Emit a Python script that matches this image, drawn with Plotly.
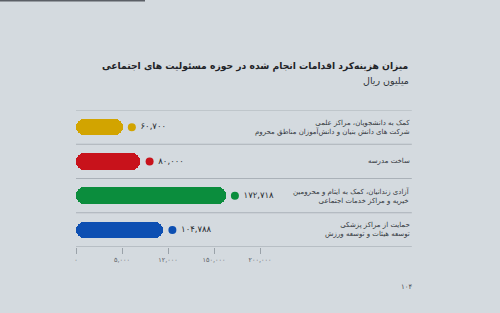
import plotly.graph_objects as go

# ---- data ----
categories = [
    "کمک به دانشجویان، مراکز علمی<br>شرکت های دانش بنیان و دانش‌آموزان مناطق محروم",
    "ساخت مدرسه",
    "آزادی زندانیان، کمک به ایتام و محرومین<br>خیریه و مراکز خدمات اجتماعی",
    "حمایت از مراکز پزشکی<br>توسعه هیئات و توسعه ورزش",
]
values = [60700, 80000, 172718, 104788]
colors = ["#d2a400", "#c8121b", "#0b8d3d", "#0d4fb2"]
tick_vals = [0, 50000, 100000, 150000, 200000]
tick_text = ["۰", "۵,۰۰۰", "۱۲,۰۰۰", "۱۵۰,۰۰۰", "۲۰۰,۰۰۰"]
title = "میزان هزینه‌کرد اقدامات انجام شده در حوزه مسئولیت های اجتماعی"
subtitle = "میلیون ریال"
page_no = "۱۰۴"

FA = str.maketrans("0123456789", "۰۱۲۳۴۵۶۷۸۹")
def fa(n):
    return f"{n:,}".translate(FA)

BAR_GAP = 10000  # visual gap between bar end and dot
BG = "#d4dadf"
FONT = "DejaVu Sans"
W, H = 500, 313

def px(x):
    return x / W
def py(y):
    return 1 - y / H

fig = go.Figure()
ys = list(range(len(values)))

fig.add_trace(go.Bar(
    y=ys, x=[v - BAR_GAP for v in values], base=0, orientation="h",
    marker=dict(color=colors, cornerradius="50%", line=dict(width=0)),
    width=0.48, hoverinfo="skip",
))
fig.add_trace(go.Scatter(
    y=ys, x=values, mode="markers+text",
    marker=dict(color=colors, size=8),
    text=["\u00a0" + fa(v) for v in values], textposition="middle right",
    textfont=dict(family=FONT, size=8.5, color="#2b2f33"),
    hoverinfo="skip",
))

x_right = 365000
# separators
for b in [-0.5, 0.5, 1.5, 2.5]:
    fig.add_shape(type="line", xref="x", yref="y", x0=0, x1=x_right, y0=b, y1=b,
                  line=dict(color="#aab1b8", width=1), layer="below")
fig.add_shape(type="line", xref="x", yref="y", x0=0, x1=x_right, y0=3.5, y1=3.5,
              line=dict(color="#9aa2a9", width=1), layer="below")
# top dark strip of the photo
fig.add_shape(type="rect", xref="paper", yref="paper", x0=0, x1=px(145), y0=py(1.5), y1=1,
              line=dict(width=0), fillcolor="#5b5f66")

# category labels
for i, c in enumerate(categories):
    fig.add_annotation(x=px(412), xref="paper", y=i, yref="y", text=c, showarrow=False,
                       xanchor="right", align="right",
                       font=dict(family=FONT, size=7, color="#33383d"))

fig.add_annotation(x=px(411), y=py(66), xref="paper", yref="paper", text="<b>" + title + "</b>",
                   showarrow=False, xanchor="right", yanchor="middle",
                   font=dict(family=FONT, size=9.2, color="#1f2327"))
fig.add_annotation(x=px(411), y=py(80), xref="paper", yref="paper", text=subtitle,
                   showarrow=False, xanchor="right", yanchor="middle",
                   font=dict(family=FONT, size=9.5, color="#2f3438"))
fig.add_annotation(x=px(407), y=py(287), xref="paper", yref="paper", text=page_no,
                   showarrow=False, xanchor="center", yanchor="middle",
                   font=dict(family=FONT, size=7, color="#4a4f55"))

scale = 0.92 / 1000  # px per unit
x0px, x1px = 60, 415
fig.update_xaxes(
    domain=[px(x0px), px(x1px)],
    range=[-(76 - x0px) / scale, (x1px - 76) / scale],
    tickvals=tick_vals, ticktext=tick_text,
    ticks="outside", ticklen=6, tickcolor="#9aa2a9", tickwidth=1,
    tickfont=dict(family=FONT, size=6.5, color="#5a6066"),
    showgrid=False, zeroline=False, showline=False,
)
fig.update_yaxes(
    domain=[py(247), py(110)], range=[3.5, -0.5],
    showticklabels=False, showgrid=False, zeroline=False, showline=False, ticks="",
)
fig.update_layout(
    width=W, height=H, margin=dict(l=0, r=0, t=0, b=0),
    paper_bgcolor=BG, plot_bgcolor=BG, showlegend=False, bargap=0,
)
fig.write_html("out.html")
